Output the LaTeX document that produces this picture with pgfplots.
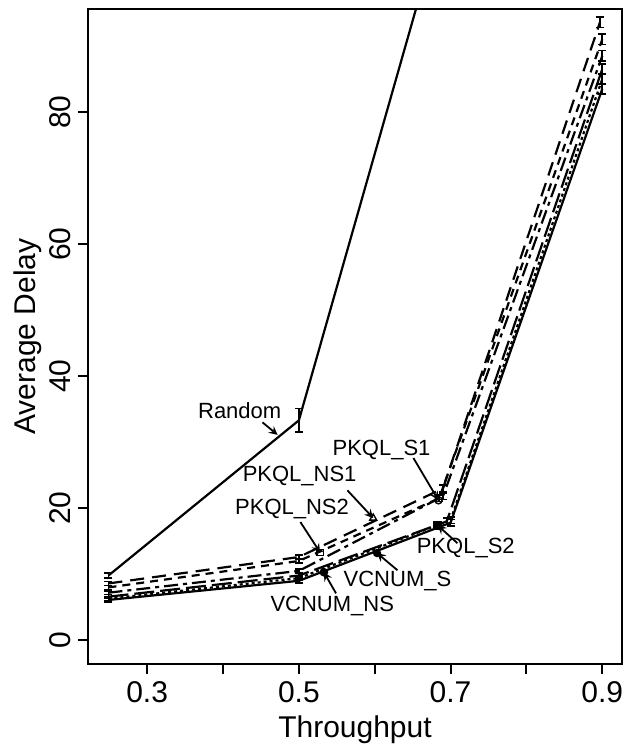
\documentclass[border=0pt]{standalone}
\usepackage{fontspec}
\setmainfont{Liberation Sans}
\usepackage{pgfplots}
\pgfplotsset{compat=1.18}

\begin{document}
\begin{tikzpicture}[
    lbl/.style={font=\fontsize{11}{11}\selectfont, inner sep=0pt},
    arr/.style={-stealth, line width=0.9pt},
]
\begin{axis}[
    at={(0,0)}, anchor=south west,
    scale only axis, width=267pt, height=327.5pt,
    xmin=0.222, xmax=0.926, ymin=-3.6, ymax=95.6,
    axis line style={line width=1.2pt},
    tick align=outside, major tick length=5pt,
    xtick pos=bottom, ytick pos=left,
    tick style={line width=1pt, black},
    xtick={0.3,0.4,0.5,0.6,0.7,0.8,0.9},
    xticklabels={0.3,,0.5,,0.7,,0.9},
    ytick={0,20,40,60,80},
    yticklabel style={rotate=90, anchor=south},
    ticklabel style={font=\fontsize{15}{15}\selectfont},
    /pgf/number format/assume math mode=true,
    xlabel={Throughput}, ylabel={Average Delay},
    label style={font=\fontsize{15}{15}\selectfont},
    xlabel style={at={(axis description cs:0.5,-0.1)}, anchor=center},
    ylabel style={at={(axis description cs:-0.112,0.5)}, anchor=center},
    every axis plot/.append style={line width=1.1pt, black, mark=none},
    eb/.style={error bars/y dir=both, error bars/y explicit,
        error bars/error bar style={line width=0.8pt, solid},
        error bars/error mark options={rotate=90, mark size=2pt, line width=0.8pt, solid}},
]

% Random
\addplot[eb] coordinates {
    (0.249, 9.8) +- (0,0.4)
    (0.500, 33.3) +- (0,1.8)
    (0.700, 114.0) +- (0,0)
};
% PKQL_NS1
\addplot[eb, dash pattern=on 7pt off 4pt] coordinates {
    (0.249, 8.6) +- (0,0.3)
    (0.500, 12.6) +- (0,0.3)
    (0.690, 23.0) +- (0,0.5)
    (0.897, 93.6) +- (0,0.8)
};
% PKQL_NS2
\addplot[eb, dash pattern=on 4pt off 3pt] coordinates {
    (0.249, 8.0) +- (0,0.3)
    (0.500, 12.0) +- (0,0.3)
    (0.685, 21.5) +- (0,0.5)
    (0.900, 91.0) +- (0,0.8)
};
% PKQL_S1
\addplot[eb, dash pattern=on 7pt off 2.5pt on 2pt off 2.5pt] coordinates {
    (0.249, 7.2) +- (0,0.3)
    (0.500, 10.5) +- (0,0.3)
    (0.690, 21.8) +- (0,0.5)
    (0.900, 88.5) +- (0,0.8)
};
% PKQL_S2
\addplot[eb, dash pattern=on 10pt off 3pt] coordinates {
    (0.249, 6.6) +- (0,0.3)
    (0.500, 9.8) +- (0,0.3)
    (0.695, 18.0) +- (0,0.5)
    (0.900, 86.5) +- (0,0.8)
};
% VCNUM_S
\addplot[eb, dash pattern=on 1.5pt off 1.5pt] coordinates {
    (0.249, 6.3) +- (0,0.3)
    (0.500, 9.4) +- (0,0.3)
    (0.700, 18.2) +- (0,0.5)
    (0.900, 85.0) +- (0,0.8)
};
% VCNUM_NS
\addplot[eb] coordinates {
    (0.249, 6.1) +- (0,0.3)
    (0.500, 9.0) +- (0,0.3)
    (0.700, 17.8) +- (0,0.5)
    (0.900, 83.5) +- (0,0.8)
};

% label markers
\addplot[only marks, mark=triangle, mark size=2pt, line width=0.7pt] coordinates {(0.598,18.5)};
\addplot[only marks, mark=square, mark size=1.6pt, line width=0.7pt] coordinates {(0.528,13.3)};
\addplot[only marks, mark=o, mark size=1.8pt, line width=0.7pt] coordinates {(0.684,21.2)};
\addplot[only marks, mark=square*, mark size=1.6pt] coordinates {(0.683,17.4)};
\addplot[only marks, mark=*, mark size=1.5pt] coordinates {(0.603,13.2)};
\addplot[only marks, mark=*, mark size=1.6pt] coordinates {(0.533,10.3)};

\node[lbl] at (0.422,34.8) {Random};
\draw[arr] (0.452,33.0) -- (0.472,31.1);
\node[lbl] at (0.609,28.8) {PKQL\_S1};
\draw[arr] (0.651,27.6) -- (0.684,21.2);
\node[lbl] at (0.501,24.8) {PKQL\_NS1};
\draw[arr] (0.564,22.7) -- (0.598,18.5);
\node[lbl] at (0.491,19.8) {PKQL\_NS2};
\draw[arr] (0.502,17.9) -- (0.528,13.3);
\node[lbl] at (0.720,13.9) {PKQL\_S2};
\draw[arr] (0.709,14.7) -- (0.683,17.4);
\node[lbl] at (0.630,8.9) {VCNUM\_S};
\draw[arr] (0.630,10.6) -- (0.603,13.2);
\node[lbl] at (0.544,5.2) {VCNUM\_NS};
\draw[arr] (0.549,7.1) -- (0.533,10.3);
\end{axis}
\pgfresetboundingbox
\path[use as bounding box] (-44pt,-42.5pt) rectangle (269pt,332pt);
\end{tikzpicture}
\end{document}
